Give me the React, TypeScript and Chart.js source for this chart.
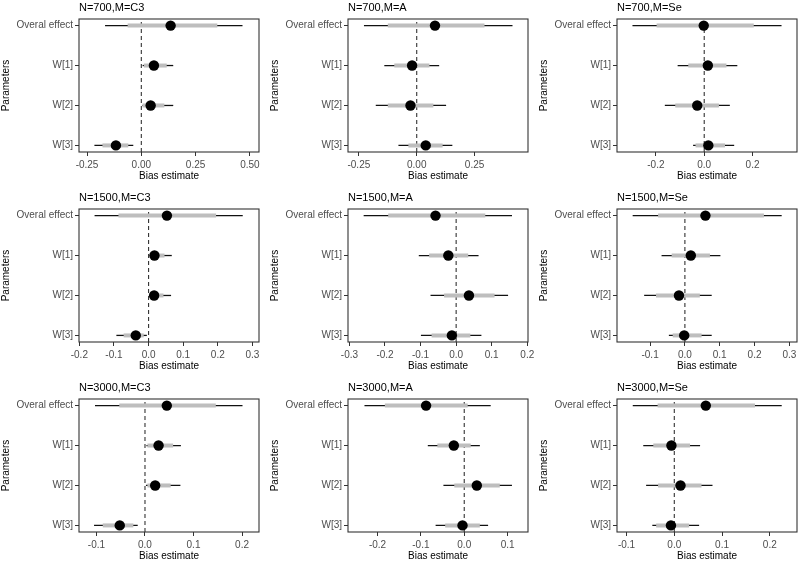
import React, { useEffect, useRef } from "react";
import { Chart, registerables } from "chart.js";

Chart.register(...registerables);
Chart.defaults.font.family = '"Liberation Sans", Arial, sans-serif';

const panelTitles = [
  "N=700,M=C3", "N=700,M=A", "N=700,M=Se",
  "N=1500,M=C3", "N=1500,M=A", "N=1500,M=Se",
  "N=3000,M=C3", "N=3000,M=A", "N=3000,M=Se",
];
const paramLabels = ["Overal effect", "W[1]", "W[2]", "W[3]"];
const paramRows = [3, 2, 1, 0];

// order within each panel: Overal effect, W[1], W[2], W[3]
const estimates = [
  [0.135, 0.058, 0.043, -0.117],
  [0.079, -0.020, -0.027, 0.039],
  [-0.002, 0.015, -0.029, 0.017],
  [0.053, 0.017, 0.016, -0.037],
  [-0.058, -0.022, 0.036, -0.012],
  [0.059, 0.017, -0.017, -0.002],
  [0.045, 0.028, 0.021, -0.052],
  [-0.088, -0.024, 0.029, -0.004],
  [0.066, -0.006, 0.013, -0.007],
];
const innerLow = [
  [-0.063, 0.012, 0.006, -0.179],
  [-0.125, -0.097, -0.125, -0.036],
  [-0.197, -0.066, -0.120, -0.036],
  [-0.087, 0.010, 0.007, -0.072],
  [-0.191, -0.076, -0.034, -0.069],
  [-0.077, -0.038, -0.083, -0.035],
  [-0.053, 0.005, 0.005, -0.087],
  [-0.183, -0.062, -0.023, -0.044],
  [-0.035, -0.044, -0.034, -0.038],
];
const innerHigh = [
  [0.350, 0.117, 0.106, -0.060],
  [0.293, 0.055, 0.072, 0.112],
  [0.205, 0.092, 0.061, 0.086],
  [0.195, 0.046, 0.043, -0.014],
  [0.082, 0.034, 0.108, 0.040],
  [0.227, 0.072, 0.043, 0.048],
  [0.146, 0.058, 0.053, -0.024],
  [0.008, 0.015, 0.082, 0.036],
  [0.169, 0.033, 0.057, 0.031],
];
const outerLow = [
  [-0.167, 0.006, 0.005, -0.216],
  [-0.228, -0.140, -0.177, -0.079],
  [-0.297, -0.110, -0.163, -0.046],
  [-0.156, 0.007, 0.005, -0.093],
  [-0.260, -0.105, -0.072, -0.099],
  [-0.150, -0.067, -0.117, -0.046],
  [-0.103, 0.003, 0.002, -0.105],
  [-0.230, -0.084, -0.048, -0.066],
  [-0.087, -0.065, -0.059, -0.046],
];
const outerHigh = [
  [0.466, 0.147, 0.147, -0.037],
  [0.414, 0.097, 0.127, 0.154],
  [0.320, 0.137, 0.106, 0.124],
  [0.272, 0.067, 0.065, -0.005],
  [0.157, 0.063, 0.146, 0.071],
  [0.278, 0.102, 0.077, 0.077],
  [0.201, 0.074, 0.073, -0.015],
  [0.061, 0.036, 0.110, 0.055],
  [0.225, 0.054, 0.080, 0.052],
];

const xTickLabels = [
  ["-0.25", "0.00", "0.25", "0.50"],
  ["-0.25", "0.00", "0.25"],
  ["-0.2", "0.0", "0.2"],
  ["-0.2", "-0.1", "0.0", "0.1", "0.2", "0.3"],
  ["-0.3", "-0.2", "-0.1", "0.0", "0.1", "0.2"],
  ["-0.1", "0.0", "0.1", "0.2", "0.3"],
  ["-0.1", "0.0", "0.1", "0.2"],
  ["-0.2", "-0.1", "0.0", "0.1"],
  ["-0.1", "0.0", "0.1", "0.2"],
];
const xMin = [-0.287, -0.297, -0.361, -0.201, -0.304, -0.195, -0.136, -0.268, -0.120];
const xMax = [0.542, 0.481, 0.384, 0.319, 0.202, 0.322, 0.235, 0.147, 0.257];
const yMin = -0.165;
const yMax = 3.165;

const CANVAS_W = 269;
const CANVAS_H = 182;
const ROW_STEP = 190;

const framePlugin = {
  id: "frameAndTitle",
  afterDraw(chart: any) {
    const { ctx, chartArea } = chart;
    const { left, top, right, bottom } = chartArea;
    ctx.save();
    ctx.strokeStyle = "#333333";
    ctx.lineWidth = 1.1;
    ctx.strokeRect(left, top, right - left, bottom - top);
    const title = chart.options.plugins.frameAndTitle?.text || "";
    ctx.fillStyle = "#000000";
    ctx.font = '11px "Liberation Sans", Arial, sans-serif';
    ctx.textAlign = "left";
    ctx.textBaseline = "middle";
    ctx.fillText(title, left, top - 11);
    ctx.restore();
  },
};

function Panel({ idx }: { idx: number }) {
  const ref = useRef<HTMLCanvasElement | null>(null);
  useEffect(() => {
    if (!ref.current) return;
    const tickVals = xTickLabels[idx].map((s) => parseFloat(s));
    const datasets: any[] = [];
    datasets.push({
      data: [{ x: 0, y: yMin }, { x: 0, y: yMax }],
      showLine: true,
      borderColor: "#333333",
      borderWidth: 1.1,
      borderDash: [4, 3],
      pointRadius: 0,
      order: 10,
    });
    paramRows.forEach((row, i) => {
      datasets.push({
        data: [{ x: outerLow[idx][i], y: row }, { x: outerHigh[idx][i], y: row }],
        showLine: true,
        borderColor: "#111111",
        borderWidth: 1.3,
        pointRadius: 0,
        borderCapStyle: "butt",
        order: 5,
      });
      datasets.push({
        data: [{ x: innerLow[idx][i], y: row }, { x: innerHigh[idx][i], y: row }],
        showLine: true,
        borderColor: "#BEBEBE",
        borderWidth: 4,
        pointRadius: 0,
        borderCapStyle: "butt",
        order: 3,
      });
    });
    datasets.push({
      data: paramRows.map((row, i) => ({ x: estimates[idx][i], y: row })),
      pointRadius: 5.2,
      pointBackgroundColor: "#000000",
      pointBorderColor: "#000000",
      pointBorderWidth: 0,
      order: 0,
    });

    const chart = new Chart(ref.current, {
      type: "scatter",
      data: { datasets },
      options: {
        animation: false,
        responsive: false,
        devicePixelRatio: 1,
        events: [],
        layout: { padding: { top: 19, right: 10, bottom: 0, left: 0 } },
        plugins: {
          legend: { display: false },
          tooltip: { enabled: false },
          frameAndTitle: { text: panelTitles[idx] },
        } as any,
        scales: {
          x: {
            type: "linear",
            min: xMin[idx],
            max: xMax[idx],
            afterBuildTicks: (s: any) => {
              s.ticks = tickVals.map((v) => ({ value: v }));
            },
            afterFit: (s: any) => {
              s.height = 30;
            },
            ticks: {
              autoSkip: false,
              maxRotation: 0,
              color: "#4D4D4D",
              font: { size: 10 },
              padding: 3,
              callback: (_v: any, i: number) => xTickLabels[idx][i],
            },
            grid: { drawOnChartArea: false, drawTicks: true, tickLength: 4, color: "#333333" },
            border: { display: false },
            title: {
              display: true,
              text: "Bias estimate",
              color: "#000000",
              font: { size: 10 },
              padding: { top: 0, bottom: 0 },
            },
          },
          y: {
            type: "linear",
            min: yMin,
            max: yMax,
            afterBuildTicks: (s: any) => {
              s.ticks = paramRows.map((v) => ({ value: v }));
            },
            afterFit: (s: any) => {
              s.width = 79;
            },
            ticks: {
              autoSkip: false,
              color: "#4D4D4D",
              font: { size: 10 },
              padding: 2,
              callback: (v: any) => paramLabels[paramRows.indexOf(Number(v))],
            },
            grid: { drawOnChartArea: false, drawTicks: true, tickLength: 4, color: "#333333" },
            border: { display: false },
            title: {
              display: true,
              text: "Parameters",
              color: "#000000",
              font: { size: 10 },
              padding: { top: 0, bottom: 0 },
            },
          },
        },
      },
      plugins: [framePlugin],
    } as any);
    return () => chart.destroy();
  }, [idx]);

  const col = idx % 3;
  const row = Math.floor(idx / 3);
  return (
    <div
      style={{
        position: "absolute",
        left: col * 269,
        top: row * ROW_STEP,
        width: CANVAS_W,
        height: CANVAS_H,
      }}
    >
      <canvas ref={ref} width={CANVAS_W} height={CANVAS_H} style={{ display: "block" }} />
    </div>
  );
}

export default function App() {
  return (
    <div
      style={{
        position: "absolute",
        left: 0,
        top: 0,
        width: 800,
        height: 562,
        overflow: "hidden",
        background: "#ffffff",
      }}
    >
      {panelTitles.map((_, i) => (
        <Panel key={i} idx={i} />
      ))}
    </div>
  );
}
